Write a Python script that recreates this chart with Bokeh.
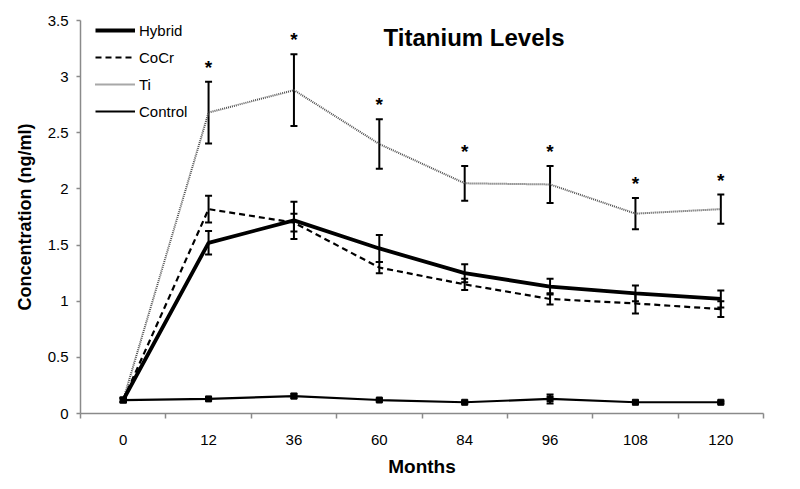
from bokeh.plotting import figure
from bokeh.models import (ColumnDataSource, Whisker, TeeHead, Legend, LegendItem,
                          FixedTicker, NumeralTickFormatter, Label, Range1d)
from bokeh.core.properties import value
from bokeh.embed import file_html
from bokeh.resources import INLINE

# ---- data ----
months = ["0", "12", "36", "60", "84", "96", "108", "120"]
hybrid = [0.12, 1.52, 1.72, 1.47, 1.25, 1.13, 1.07, 1.02]
hybrid_err = [0.02, 0.105, 0.165, 0.12, 0.08, 0.07, 0.07, 0.075]
cocr = [0.12, 1.82, 1.70, 1.30, 1.15, 1.02, 0.98, 0.93]
cocr_err = [0.02, 0.12, 0.08, 0.05, 0.05, 0.05, 0.09, 0.07]
ti = [0.12, 2.68, 2.88, 2.40, 2.05, 2.04, 1.78, 1.82]
ti_err = [0.02, 0.275, 0.32, 0.22, 0.155, 0.165, 0.14, 0.13]
control = [0.12, 0.13, 0.155, 0.12, 0.10, 0.13, 0.10, 0.10]
control_err = [0.01, 0.01, 0.02, 0.01, 0.01, 0.04, 0.01, 0.01]
significant = [False, True, True, True, True, True, True, True]
y_ticks = [0, 0.5, 1, 1.5, 2, 2.5, 3, 3.5]

xpos = [i + 0.5 for i in range(len(months))]

FONT = "Liberation Sans"
AXIS_GRAY = "#8a8a8a"

p = figure(width=800, height=489, output_backend="svg", toolbar_location=None,
           x_range=Range1d(0, len(months)), y_range=Range1d(0, 3.5),
           min_border_left=80, min_border_right=37, min_border_top=20, min_border_bottom=76)
p.outline_line_color = None
p.grid.visible = False
p.background_fill_color = "white"
p.border_fill_color = "white"

def src(vals, errs):
    return ColumnDataSource(dict(x=xpos, y=vals,
                                 upper=[v + e for v, e in zip(vals, errs)],
                                 lower=[v - e for v, e in zip(vals, errs)]))

s_h = src(hybrid, hybrid_err)
s_c = src(cocr, cocr_err)
s_t = src(ti, ti_err)
s_k = src(control, control_err)

r_t = p.line("x", "y", source=s_t, line_color="#505050", line_width=2, line_dash="1 1")
r_c = p.line("x", "y", source=s_c, line_color="black", line_width=2.2, line_dash="6 4")
r_h = p.line("x", "y", source=s_h, line_color="black", line_width=3.8)
r_k = p.line("x", "y", source=s_k, line_color="black", line_width=2.2)
p.scatter("x", "y", source=s_k, marker="square", size=6, color="black")

for s in (s_t, s_c, s_h, s_k):
    w = Whisker(source=s, base="x", upper="upper", lower="lower", dimension="height",
                line_color="black", line_width=2,
                upper_head=TeeHead(size=7, line_width=2, line_color="black"),
                lower_head=TeeHead(size=7, line_width=2, line_color="black"))
    p.add_layout(w)

# significance asterisks
star_src = ColumnDataSource(dict(
    x=[x for x, sg in zip(xpos, significant) if sg],
    y=[v + e for v, e, sg in zip(ti, ti_err, significant) if sg],
    t=["*" for sg in significant if sg]))
p.text("x", "y", text="t", source=star_src, text_align="center", text_baseline="bottom",
       y_offset=-4, text_font=value(FONT), text_font_size="19px", text_font_style="bold",
       text_color="black")

# axes
xa = p.xaxis[0]
xa.ticker = FixedTicker(ticks=xpos, minor_ticks=list(range(len(months) + 1)))
xa.major_label_overrides = {x: m for x, m in zip(xpos, months)}
xa.major_tick_line_color = None
xa.major_tick_out = 0
xa.major_tick_in = 0
xa.minor_tick_out = 5
xa.minor_tick_in = 0
xa.minor_tick_line_color = AXIS_GRAY
xa.minor_tick_line_width = 1.5
xa.axis_line_color = AXIS_GRAY
xa.axis_line_width = 1.5
xa.major_label_standoff = 16
xa.major_label_text_font = FONT
xa.major_label_text_font_size = "15px"
xa.major_label_text_color = "black"
xa.axis_label = "Months"
xa.axis_label_text_font = FONT
xa.axis_label_text_font_style = "bold"
xa.axis_label_text_font_size = "19px"
xa.axis_label_text_color = "black"
xa.axis_label_standoff = 8

ya = p.yaxis[0]
ya.ticker = FixedTicker(ticks=y_ticks, minor_ticks=[])
ya.formatter = NumeralTickFormatter(format="0.[0]")
ya.major_tick_out = 4
ya.major_tick_in = 0
ya.major_tick_line_color = AXIS_GRAY
ya.major_tick_line_width = 1.5
ya.axis_line_color = AXIS_GRAY
ya.axis_line_width = 1.5
ya.major_label_standoff = 8
ya.major_label_text_font = FONT
ya.major_label_text_font_size = "15px"
ya.major_label_text_color = "black"
ya.axis_label = "Concentration (ng/ml)"
ya.axis_label_text_font = FONT
ya.axis_label_text_font_style = "bold"
ya.axis_label_text_font_size = "18px"
ya.axis_label_text_color = "black"
ya.axis_label_standoff = 10

# title inside plot
p.add_layout(Label(x=3.55, y=3.35, text="Titanium Levels", text_font=FONT,
                   text_font_style="bold", text_font_size="24px", text_baseline="middle",
                   text_align="left", text_color="black"))

legend = Legend(items=[LegendItem(label="Hybrid", renderers=[r_h]),
                       LegendItem(label="CoCr", renderers=[r_c]),
                       LegendItem(label="Ti", renderers=[r_t]),
                       LegendItem(label="Control", renderers=[r_k])],
                location=(15, 293), border_line_color=None, background_fill_alpha=0,
                padding=0, margin=0, spacing=9, glyph_width=40, glyph_height=18,
                label_height=18, label_standoff=4, label_text_font=FONT,
                label_text_font_size="15px", label_text_color="black")
p.add_layout(legend)

open("out.html", "w").write(file_html(p, INLINE))
